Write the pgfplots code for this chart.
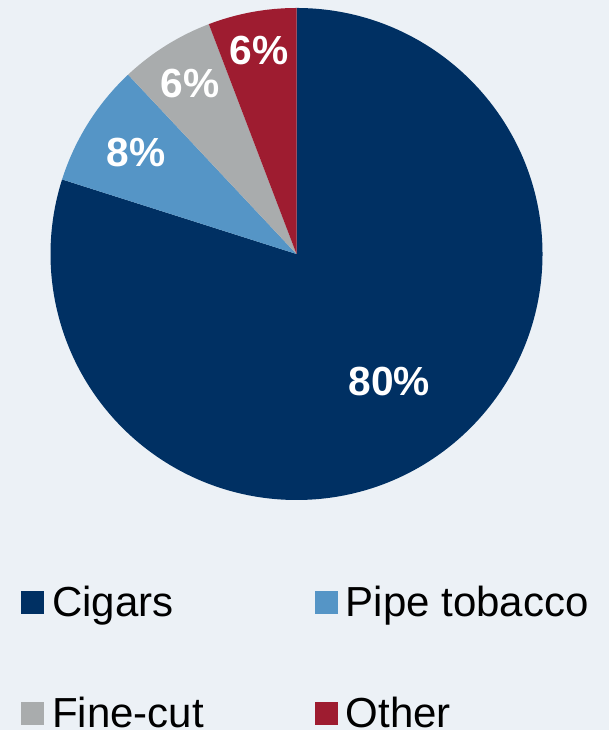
\documentclass[border=0pt]{standalone}
\usepackage{pgfplots}
\pgfplotsset{compat=1.18}
\usepackage{pgfplotstable}
\usepackage{fontspec}
\setmainfont{Liberation Sans}
\definecolor{bgc}{HTML}{ECF1F6}
\definecolor{cigc}{HTML}{003063}
\definecolor{pipc}{HTML}{5595C6}
\definecolor{finc}{HTML}{A9ACAD}
\definecolor{othc}{HTML}{9E1C30}

% slice values (percent), label text, label distance (fraction of radius)
\pgfplotstableread{
name value lab labr
Cigars 79.9 80 0.64
Pipe 8.1 8 0.771
Fine 6.2 6 0.816
Other 5.8 6 0.84
}\piedata

\begin{document}
\begin{tikzpicture}
\def\cx{296.5}\def\cy{476}\def\rpx{246}\def\R{184.5pt}
\pgfplotstablegetelem{0}{value}\of\piedata\edef\vA{\pgfplotsretval}
\pgfplotstablegetelem{1}{value}\of\piedata\edef\vB{\pgfplotsretval}
\pgfplotstablegetelem{2}{value}\of\piedata\edef\vC{\pgfplotsretval}
\pgfplotstablegetelem{3}{value}\of\piedata\edef\vD{\pgfplotsretval}
\pgfplotstablegetelem{0}{lab}\of\piedata\edef\lA{\pgfplotsretval}
\pgfplotstablegetelem{1}{lab}\of\piedata\edef\lB{\pgfplotsretval}
\pgfplotstablegetelem{2}{lab}\of\piedata\edef\lC{\pgfplotsretval}
\pgfplotstablegetelem{3}{lab}\of\piedata\edef\lD{\pgfplotsretval}
\pgfplotstablegetelem{0}{labr}\of\piedata\edef\rA{\pgfplotsretval}
\pgfplotstablegetelem{1}{labr}\of\piedata\edef\rB{\pgfplotsretval}
\pgfplotstablegetelem{2}{labr}\of\piedata\edef\rC{\pgfplotsretval}
\pgfplotstablegetelem{3}{labr}\of\piedata\edef\rD{\pgfplotsretval}
\pgfmathsetmacro\aA{90}
\pgfmathsetmacro\aB{\aA-3.6*\vA}
\pgfmathsetmacro\aC{\aB-3.6*\vB}
\pgfmathsetmacro\aD{\aC-3.6*\vC}
\pgfmathsetmacro\aE{\aD-3.6*\vD}
\pgfmathsetmacro\xA{\cx+\rA*\rpx*cos((\aA+\aB)/2)}\pgfmathsetmacro\yA{\cy+\rA*\rpx*sin((\aA+\aB)/2)}
\pgfmathsetmacro\xB{\cx+\rB*\rpx*cos((\aB+\aC)/2)}\pgfmathsetmacro\yB{\cy+\rB*\rpx*sin((\aB+\aC)/2)}
\pgfmathsetmacro\xC{\cx+\rC*\rpx*cos((\aC+\aD)/2)}\pgfmathsetmacro\yC{\cy+\rC*\rpx*sin((\aC+\aD)/2)}
\pgfmathsetmacro\xD{\cx+\rD*\rpx*cos((\aD+\aE)/2)}\pgfmathsetmacro\yD{\cy+\rD*\rpx*sin((\aD+\aE)/2)}
\begin{axis}[name=ax, scale only axis, width=456.75pt, height=547.5pt,
  xmin=0, xmax=609, ymin=0, ymax=730, hide axis, clip=false,
  legend columns=2,
  legend style={at={(axis cs:21,144.5)}, anchor=north west, draw=none, fill=none,
    inner sep=0pt, outer sep=0pt,
    font=\fontsize{31.5}{31.5}\selectfont,
    nodes={inner sep=0pt, outer sep=0pt, text height=23.6pt, text depth=7.9pt},
    cells={anchor=base west},
    row sep=51.75pt,
    /tikz/every odd column/.style={column sep=6.5pt},
    /tikz/every even column/.style={column sep=83.1pt}},
  legend image code/.code={\fill[#1] (0pt,3pt) rectangle (16.5pt,19.5pt);},
]
\fill[bgc] (axis cs:0,0) rectangle (axis cs:609,730);
\fill[cigc] (axis cs:\cx,\cy) -- ++(\aA:\R) arc[start angle=\aA, end angle=\aB, radius=\R] -- cycle;
\fill[pipc] (axis cs:\cx,\cy) -- ++(\aB:\R) arc[start angle=\aB, end angle=\aC, radius=\R] -- cycle;
\fill[finc] (axis cs:\cx,\cy) -- ++(\aC:\R) arc[start angle=\aC, end angle=\aD, radius=\R] -- cycle;
\fill[othc] (axis cs:\cx,\cy) -- ++(\aD:\R) arc[start angle=\aD, end angle=\aE, radius=\R] -- cycle;
\tikzset{plab/.style={text=white, font=\bfseries\fontsize{30.5}{30.5}\selectfont, inner sep=0pt}}
\node[plab] at (axis cs:\xA,\yA) {\lA\%};
\node[plab] at (axis cs:\xB,\yB) {\lB\%};
\node[plab] at (axis cs:\xC,\yC) {\lC\%};
\node[plab] at (axis cs:\xD,\yD) {\lD\%};
\addlegendimage{cigc}\addlegendentry{Cigars}
\addlegendimage{pipc}\addlegendentry{Pipe tobacco}
\addlegendimage{finc}\addlegendentry{Fine-cut}
\addlegendimage{othc}\addlegendentry{Other}
\end{axis}
\pgfresetboundingbox
\useasboundingbox (ax.south west) rectangle (ax.north east);
\end{tikzpicture}
\end{document}
